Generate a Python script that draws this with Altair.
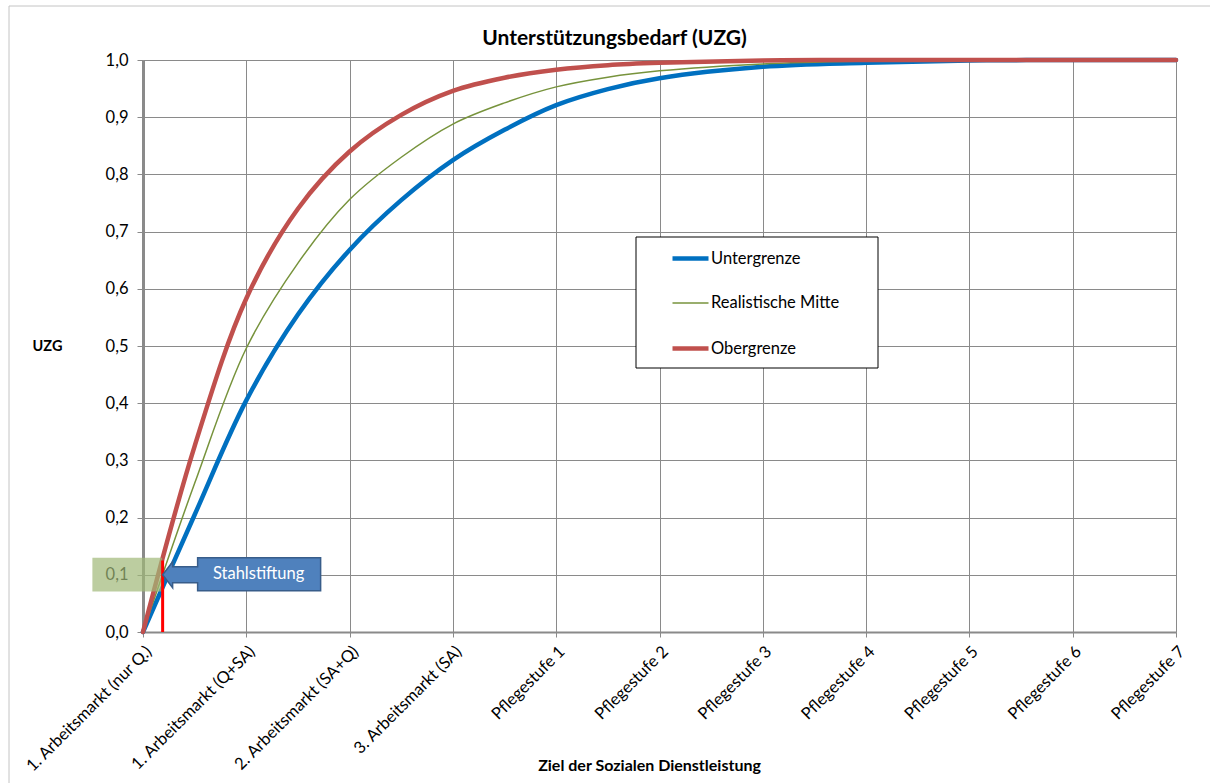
import json

import altair as alt
import pandas as pd

# Categories along the x axis (goal of the social service)
stufen = [
    "1. Arbeitsmarkt (nur Q.)",
    "1. Arbeitsmarkt (Q+SA)",
    "2. Arbeitsmarkt (SA+Q)",
    "3. Arbeitsmarkt (SA)",
    "Pflegestufe 1",
    "Pflegestufe 2",
    "Pflegestufe 3",
    "Pflegestufe 4",
    "Pflegestufe 5",
    "Pflegestufe 6",
    "Pflegestufe 7",
]

# Positions on the category axis and the UZG values of the three curves
stellen = [0, 0.5, 1, 1.5, 2, 2.5, 3, 3.5, 4, 4.5, 5, 6, 7, 8, 9, 10]
untergrenze = [0, 0.205, 0.405, 0.555, 0.668, 0.755, 0.825, 0.878, 0.921, 0.949,
               0.968, 0.988, 0.995, 0.999, 1.0, 1.0]
mitte = [0, 0.26, 0.496, 0.645, 0.756, 0.83, 0.888, 0.925, 0.953, 0.97,
         0.981, 0.993, 0.998, 1.0, 1.0, 1.0]
obergrenze = [0, 0.325, 0.583, 0.74, 0.84, 0.904, 0.946, 0.969, 0.983, 0.991,
              0.995, 0.999, 1.0, 1.0, 1.0, 1.0]

reihen = ["Untergrenze", "Realistische Mitte", "Obergrenze"]
farben = ["#0070C0", "#77933C", "#C0504D"]
linienbreiten = [4.5, 1.5, 4.5]

# "Stahlstiftung" marker: position, vertical line and shaded band
stahl_x = [0.19]
stahl_y = [0.1]
stahl_linie_y = [0.0, 0.125]
bereich_x = [-0.49, 0.185]
bereich_y = [0.071, 0.13]

FONT = "Lato"
GRAU = "#8a8a8a"

werte = {"Untergrenze": untergrenze, "Realistische Mitte": mitte, "Obergrenze": obergrenze}
df = pd.DataFrame(
    [
        {"reihe": name, "ordnung": i, "x": x, "uzg": y}
        for i, name in enumerate(reihen)
        for x, y in zip(stellen, werte[name])
    ]
)

label_expr = json.dumps(stufen) + "[datum.value]"

x_axis = alt.Axis(
    values=list(range(len(stufen))),
    labelExpr=label_expr,
    labelAngle=-45,
    labelAlign="right",
    labelBaseline="top",
    labelPadding=6,
    labelOverlap=False,
    labelFlush=False,
    labelFont=FONT,
    labelFontSize=16.5,
    labelColor="#000000",
    tickSize=5,
    tickColor=GRAU,
    domainColor=GRAU,
    domainWidth=2,
    gridColor=GRAU,
    gridWidth=1,
    title="Ziel der Sozialen Dienstleistung",
    titleFont=FONT,
    titleFontSize=16,
    titleFontWeight="bold",
    titleColor="#000000",
    titleX=506,
    titleY=133,
    titleAlign="center",
    titleBaseline="middle",
)

y_axis = alt.Axis(
    values=[round(i / 10, 1) for i in range(11)],
    labelExpr="replace(format(datum.value, '.1f'), '.', ',')",
    labelFont=FONT,
    labelFontSize=16.5,
    labelColor="#000000",
    labelPadding=9,
    tickSize=6,
    tickColor=GRAU,
    domainColor=GRAU,
    domainWidth=3,
    gridColor=GRAU,
    gridWidth=1,
    zindex=0,
    title="UZG",
    titleAngle=0,
    titleX=-96,
    titleY=286,
    titleAlign="center",
    titleBaseline="middle",
    titleFont=FONT,
    titleFontSize=14.5,
    titleFontWeight="bold",
    titleColor="#000000",
)

legende = dict(
    orient="none",
    legendX=527,
    legendY=178,
    title=None,
    symbolType="stroke",
    symbolSize=1296,
    labelFont=FONT,
    labelFontSize=16.5,
    labelColor="#000000",
    labelOffset=0,
    rowPadding=16,
    padding=0,
)

x_scale = alt.Scale(domain=[0, 10], nice=False, zero=False)
y_scale = alt.Scale(domain=[0, 1], nice=False)

# Outer frame of the chart
rahmen = alt.Chart(alt.Data(values=[{}])).mark_rect(
    filled=False, stroke="#c4c4c4", strokeWidth=1
).encode(
    x=alt.value(-134), x2=alt.value(1100), y=alt.value(-54), y2=alt.value(800)
)

kurven = alt.Chart(df).mark_line(interpolate="catmull-rom", strokeCap="round").encode(
    x=alt.X("x:Q", scale=x_scale, axis=x_axis),
    y=alt.Y("uzg:Q", scale=y_scale, axis=y_axis),
    color=alt.Color(
        "reihe:N",
        scale=alt.Scale(domain=reihen, range=farben),
        legend=alt.Legend(**legende),
    ),
    strokeWidth=alt.StrokeWidth(
        "reihe:N",
        scale=alt.Scale(type="ordinal", domain=reihen, range=linienbreiten),
        legend=alt.Legend(**legende),
    ),
    order="ordnung:Q",
)

# Frame behind the legend entries
legendenrahmen = alt.Chart(alt.Data(values=[{}])).mark_rect(
    fill="#ffffff", stroke="#000000", strokeWidth=1
).encode(
    x=alt.value(493), x2=alt.value(735), y=alt.value(177), y2=alt.value(308)
)

bereich = alt.Chart(
    pd.DataFrame({"x": [bereich_x[0]], "x2": [bereich_x[1]],
                  "y": [bereich_y[0]], "y2": [bereich_y[1]]})
).mark_rect(fill="#9fb878", opacity=0.7).encode(
    x=alt.X("x:Q", scale=x_scale), x2="x2:Q",
    y=alt.Y("y:Q", scale=y_scale), y2="y2:Q",
)

linie = alt.Chart(
    pd.DataFrame({"x": stahl_x, "y": [stahl_linie_y[0]], "y2": [stahl_linie_y[1]]})
).mark_rule(color="#ff0000", strokeWidth=3).encode(
    x=alt.X("x:Q", scale=x_scale),
    y=alt.Y("y:Q", scale=y_scale), y2="y2:Q",
)

# Left-arrow callout, drawn as a custom symbol whose tip sits on the marker point
callout_pfad = ("M0,0 L10,-13 L10,-8 L35,-8 L35,-17 L158,-17 L158,16 "
                "L35,16 L35,8 L10,8 L10,13 Z")
marker = pd.DataFrame({"x": stahl_x, "y": stahl_y, "text": ["Stahlstiftung"]})

pfeil = alt.Chart(marker).mark_point(
    shape=callout_pfad, size=4, filled=True, fill="#4F81BD", fillOpacity=1,
    stroke="#385D8A", strokeWidth=1.5, opacity=1,
).encode(
    x=alt.X("x:Q", scale=x_scale),
    y=alt.Y("y:Q", scale=y_scale),
)

beschriftung = alt.Chart(marker).mark_text(
    font=FONT, fontSize=16.5, color="#ffffff", align="center", baseline="middle",
    dx=96, dy=-1,
).encode(
    x=alt.X("x:Q", scale=x_scale),
    y=alt.Y("y:Q", scale=y_scale),
    text="text:N",
)

chart = alt.layer(
    rahmen, legendenrahmen, kurven, bereich, linie, pfeil, beschriftung
).properties(
    width=1033,
    height=572,
    autosize=alt.AutoSizeParams(type="none"),
    padding={"left": 143, "top": 60, "right": 34, "bottom": 151},
    background="#ffffff",
    title=alt.TitleParams(
        "Unterstützungsbedarf (UZG)",
        font=FONT,
        fontSize=21,
        fontWeight="bold",
        color="#000000",
        anchor="middle",
        frame="group",
        dx=-45,
        offset=-60,
        baseline="alphabetic",
    ),
).configure_view(stroke=None)

chart.save("out.html", embed_options={"renderer": "svg", "actions": False})
